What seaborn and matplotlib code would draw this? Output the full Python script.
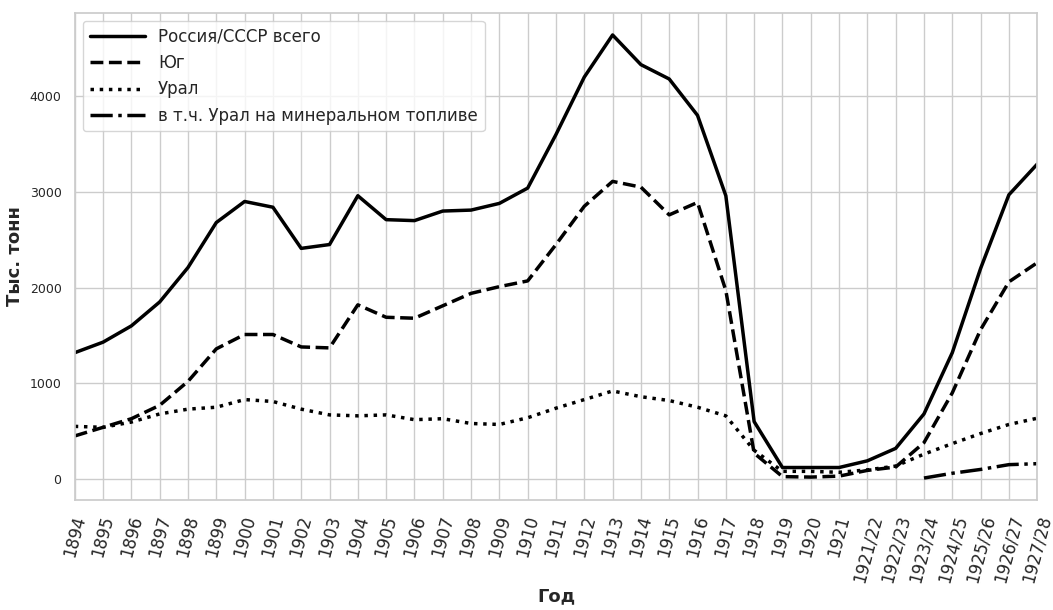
import numpy as np
import pandas as pd
import matplotlib
matplotlib.use("Agg")
import matplotlib.pyplot as plt
import seaborn as sns

# Годы (с 1921/22 - хозяйственные годы)
years = [str(y) for y in range(1894, 1922)] + [
    "1921/22", "1922/23", "1923/24", "1924/25", "1925/26", "1926/27", "1927/28"
]

# Выплавка, тыс. тонн
russia_total = [1320, 1430, 1600, 1850, 2210, 2680, 2900, 2840, 2410, 2450,
                2960, 2710, 2700, 2800, 2810, 2880, 3040, 3600, 4200, 4640,
                4330, 4180, 3800, 2960, 600, 120, 120, 120,
                190, 320, 680, 1320, 2200, 2970, 3290]
south = [450, 540, 630, 770, 1020, 1360, 1510, 1510, 1380, 1370,
         1820, 1690, 1680, 1810, 1940, 2010, 2070, 2450, 2850, 3110,
         3050, 2760, 2890, 1970, 270, 25, 20, 30,
         90, 125, 380, 900, 1560, 2060, 2260]
ural = [550, 540, 595, 680, 730, 750, 830, 810, 730, 670,
        660, 670, 620, 630, 580, 570, 640, 740, 830, 920,
        860, 820, 750, 660, 300, 80, 80, 70,
        95, 135, 260, 370, 475, 570, 635]
ural_mineral = [np.nan] * 30 + [10, 60, 100, 150, 160]

series = [
    ("Россия/СССР всего", russia_total, "-"),
    ("Юг", south, "--"),
    ("Урал", ural, ":"),
    ("в т.ч. Урал на минеральном топливе", ural_mineral, "-."),
]

sns.set_theme(style="whitegrid")
plt.rcParams["font.family"] = ["DejaVu Sans"]

fig, ax = plt.subplots(figsize=(10.53, 6.1), dpi=100)
fig.subplots_adjust(left=0.071, right=0.985, top=0.979, bottom=0.18)

x = np.arange(len(years))
for name, values, ls in series:
    df = pd.DataFrame({"x": x, "y": values}).dropna()
    sns.lineplot(data=df, x="x", y="y", ax=ax, color="black",
                 linestyle=ls, linewidth=2.5, label=name)

ax.set_xlim(0, len(years) - 1)
ax.set_xticks(x)
ax.set_xticklabels(years, rotation=75, fontsize=12)
ax.set_yticks([0, 1000, 2000, 3000, 4000])
ax.tick_params(axis="y", labelsize=9)

ax.set_xlabel("Год", fontsize=13, fontweight="bold", labelpad=2)
ax.set_ylabel("Тыс. тонн", fontsize=13, fontweight="bold", labelpad=4)

ax.legend(loc="upper left", fontsize=12, handlelength=3.3)

plt.savefig("out.png", dpi=100)
